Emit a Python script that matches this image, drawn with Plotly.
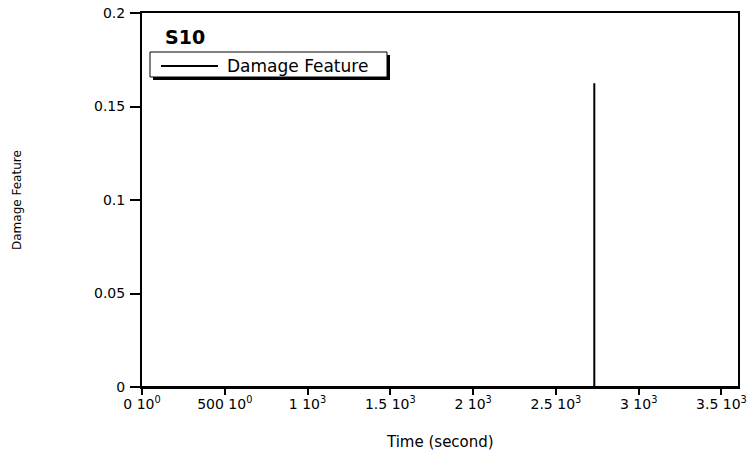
import plotly.graph_objects as go

# Damage feature record for specimen S10
time_s = [0, 2732, 2732, 2732, 3600]
damage = [0, 0, 0.1625, 0, 0]

x_tick_vals = [0, 500, 1000, 1500, 2000, 2500, 3000, 3500]
x_tick_text = ["0 10<sup>0</sup>", "500 10<sup>0</sup>", "1 10<sup>3</sup>", "1.5 10<sup>3</sup>",
               "2 10<sup>3</sup>", "2.5 10<sup>3</sup>", "3 10<sup>3</sup>", "3.5 10<sup>3</sup>"]
y_tick_vals = [0, 0.05, 0.1, 0.15, 0.2]
y_tick_text = ["0", "0.05", "0.1", "0.15", "0.2"]

W, H = 755, 458
L, R, T, B = 142, 17, 13, 71
PW, PH = W - L - R, H - T - B


def px(x):
    return (x - L) / PW


def py(y):
    return (H - B - y) / PH


FONT = "DejaVu Sans"

fig = go.Figure()
fig.add_trace(go.Scatter(
    x=time_s, y=damage, mode="lines", name="Damage Feature",
    line=dict(color="black", width=2), showlegend=False,
))

fig.update_layout(
    width=W, height=H,
    margin=dict(l=L, r=R, t=T, b=B, autoexpand=False),
    paper_bgcolor="white", plot_bgcolor="white",
    font=dict(family=FONT, color="black", size=14),
    xaxis=dict(
        range=[0, 3600], tickvals=x_tick_vals, ticktext=x_tick_text,
        showgrid=False, zeroline=False, showline=True, mirror=True,
        linecolor="black", linewidth=2, ticks="outside", ticklen=6,
        tickwidth=2, tickcolor="black", tickfont=dict(family=FONT, size=14),
        ticklabelstandoff=-3, automargin=False,
    ),
    yaxis=dict(
        range=[0, 0.2], tickvals=y_tick_vals, ticktext=y_tick_text,
        showgrid=False, zeroline=False, showline=True, mirror=True,
        linecolor="black", linewidth=2, ticks="outside", ticklen=10,
        tickwidth=2, tickcolor="black", tickfont=dict(family=FONT, size=14),
        ticklabelstandoff=2, automargin=False,
    ),
)

# axis titles
fig.add_annotation(x=0.5, y=py(442), xref="paper", yref="paper",
                   text="Time (second)", showarrow=False,
                   font=dict(family=FONT, size=15), xanchor="center", yanchor="middle")
fig.add_annotation(x=px(17), y=0.5, xref="paper", yref="paper",
                   text="Damage Feature", textangle=-90, showarrow=False,
                   font=dict(family=FONT, size=12), xanchor="center", yanchor="middle")

# panel label
fig.add_annotation(x=px(163), y=py(37), xref="paper", yref="paper",
                   text="<b>S10</b>", showarrow=False,
                   font=dict(family=FONT, size=19), xanchor="left", yanchor="middle")

# legend box with drop shadow
fig.add_shape(type="rect", xref="paper", yref="paper",
              x0=px(153), x1=px(390), y0=py(80), y1=py(55),
              fillcolor="black", line=dict(width=0))
fig.add_shape(type="rect", xref="paper", yref="paper",
              x0=px(150), x1=px(387), y0=py(77), y1=py(52),
              fillcolor="white", line=dict(color="black", width=1))
fig.add_shape(type="line", xref="paper", yref="paper",
              x0=px(161), x1=px(218), y0=py(66), y1=py(66),
              line=dict(color="black", width=2))
fig.add_annotation(x=px(225), y=py(65.5), xref="paper", yref="paper",
                   text="Damage Feature", showarrow=False,
                   font=dict(family=FONT, size=17), xanchor="left", yanchor="middle")

fig.write_html("out.html")
